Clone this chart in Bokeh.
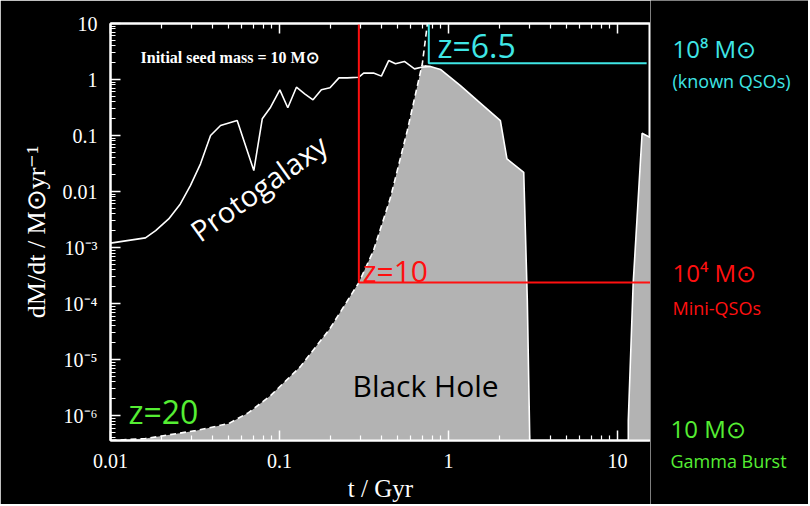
from bokeh.plotting import figure
from bokeh.models import Label, FixedTicker, CustomJSTickFormatter, LogAxis, Range1d
from bokeh.layouts import row, column
from bokeh.embed import file_html
from bokeh.resources import INLINE
import math

# ---------------- data ----------------
# Protogalaxy star-formation rate  (t in Gyr, rate in Msun/yr)
proto_t = [0.0100, 0.0161, 0.0185, 0.0221, 0.0259, 0.0297, 0.0341, 0.0391, 0.0448,
           0.0562, 0.0705, 0.0791, 0.0886, 0.1005, 0.112, 0.126, 0.141, 0.158,
           0.177, 0.199, 0.225, 0.252, 0.295, 0.315, 0.360, 0.401, 0.443, 0.486,
           0.549, 0.630, 0.692, 0.782]
proto_rate = [1.2e-3, 1.49e-3, 2.01e-3, 3.25e-3, 6.0e-3, 0.0128, 0.0313, 0.100, 0.151,
              0.185, 0.0237, 0.199, 0.320, 0.655, 0.313, 0.729, 0.556, 0.434,
              0.655, 0.711, 1.07, 1.07, 1.10, 1.30, 1.31, 1.15, 2.18, 1.91,
              2.10, 1.55, 1.66, 1.71]

# Black hole accretion: Eddington-limited rise (dashed)
bh_rise_t = [0.0100, 0.0161, 0.0319, 0.0499, 0.0656, 0.0886, 0.133, 0.199, 0.295,
             0.360, 0.454, 0.571, 0.701, 0.751]
bh_rise_rate = [3.6e-7, 3.9e-7, 5.4e-7, 7.2e-7, 1.13e-6, 2.28e-6, 7.5e-6, 3.58e-5, 2.37e-4,
                8.8e-4, 7.8e-3, 0.123, 1.93, 10.0]

# Black hole accretion: decline after the peak (solid)
bh_fall_t = [0.720, 0.782, 0.897, 1.178, 1.486, 2.03, 2.22, 2.79, 2.93, 3.03]
bh_fall_rate = [1.75, 1.71, 1.51, 0.78, 0.42, 0.185, 0.0384, 0.0221, 1.13e-4, 3.6e-7]

# Late-time black hole accretion spike
late_t = [11.6, 11.6, 12.4, 14.0, 15.7]
late_rate = [3.6e-7, 8.1e-7, 2.3e-4, 0.11, 0.092]

t_range = (0.01, 15.7)
rate_range = (3.6e-7, 10.0)

x_tick_vals = [0.01, 0.1, 1, 10]
x_tick_labels = ["0.01", "0.1", "1", "10"]
y_tick_vals = [1e-6, 1e-5, 1e-4, 1e-3, 0.01, 0.1, 1, 10]
y_tick_labels = ["10\u207b\u2076", "10\u207b\u2075", "10\u207b\u2074", "10\u207b\u00b3",
                 "0.01", "0.1", "1", "10"]

# redshift markers
z10_t, z10_rate = 0.295, 2.37e-4
z65_t, z65_rate, z65_end_t = 0.765, 1.95, 14.9

# ---------------- styling ----------------
WHITE = "white"
GRAY = "#b3b3b3"
RED = "#ff1010"
CYAN = "#3fe6e6"
GREEN = "#55ee33"
SERIF = "Liberation Serif"
SANS = "Open Sans"
FIG_H = 504


def minor_list(vals):
    out = []
    for v in vals:
        for k in range(2, 10):
            out.append(v * k)
    return out


p = figure(x_axis_type="log", y_axis_type="log",
           x_range=Range1d(*t_range), y_range=Range1d(*rate_range),
           frame_width=540, frame_height=417,
           min_border_left=110, min_border_top=23, min_border_right=0, min_border_bottom=64,
           output_backend="svg", toolbar_location=None)

p.background_fill_color = "black"
p.border_fill_color = "black"
p.outline_line_color = WHITE
p.outline_line_width = 2
p.grid.visible = False

x_ticker = FixedTicker(ticks=x_tick_vals, minor_ticks=minor_list([0.01, 0.1, 1, 10]))
y_ticker = FixedTicker(ticks=y_tick_vals, minor_ticks=minor_list([1e-7, 1e-6, 1e-5, 1e-4, 1e-3, 0.01, 0.1, 1]))

fmt_code = """
const e = Math.round(Math.log10(tick));
const i = exps.indexOf(e);
return i >= 0 ? labels[i] : "";
"""
x_fmt = CustomJSTickFormatter(args=dict(exps=[round(math.log10(v)) for v in x_tick_vals],
                                        labels=x_tick_labels), code=fmt_code)
y_fmt = CustomJSTickFormatter(args=dict(exps=[round(math.log10(v)) for v in y_tick_vals],
                                        labels=y_tick_labels), code=fmt_code)
blank_fmt = CustomJSTickFormatter(code='return "";')


def style_axis(ax):
    ax.axis_line_color = WHITE
    ax.axis_line_width = 2
    ax.major_tick_line_color = WHITE
    ax.minor_tick_line_color = WHITE
    ax.major_tick_line_width = 1.5
    ax.minor_tick_line_width = 1.2
    ax.major_tick_in = 10
    ax.major_tick_out = 0
    ax.minor_tick_in = 5
    ax.minor_tick_out = 0
    ax.major_label_text_color = WHITE
    ax.major_label_text_font = SERIF
    ax.major_label_text_font_size = "20px"
    ax.axis_label_text_color = WHITE
    ax.axis_label_text_font = SERIF
    ax.axis_label_text_font_size = "25px"
    ax.axis_label_text_font_style = "normal"


xa = p.xaxis[0]
xa.ticker = x_ticker
xa.formatter = x_fmt
style_axis(xa)
xa.axis_label = "t / Gyr"
xa.major_label_standoff = 13
xa.axis_label_standoff = 4

ya = p.yaxis[0]
ya.ticker = y_ticker
ya.formatter = y_fmt
style_axis(ya)
ya.axis_label = "dM/dt / M\u2299yr\u207b\u00b9"
ya.axis_label_text_font_size = "26px"
ya.major_label_standoff = 13
ya.axis_label_standoff = 9

top = LogAxis(ticker=x_ticker, formatter=blank_fmt)
style_axis(top)
top.major_label_standoff = 0
p.add_layout(top, "above")

# ---------------- marks ----------------
floor = rate_range[0]
poly_t = [t for t in bh_rise_t if t < bh_fall_t[0]] + bh_fall_t
poly_r = [r for t, r in zip(bh_rise_t, bh_rise_rate) if t < bh_fall_t[0]] + bh_fall_rate
p.patch(poly_t, poly_r, fill_color=GRAY, line_color=None)
p.patch(late_t + [late_t[-1]], late_rate + [floor * 0.5], fill_color=GRAY, line_color=None)

p.line(bh_rise_t, bh_rise_rate, line_color=WHITE, line_width=1.6, line_dash="6 4")
p.line(bh_fall_t, bh_fall_rate, line_color=WHITE, line_width=1.6)
p.line(late_t, late_rate, line_color=WHITE, line_width=1.6)
p.line(proto_t, proto_rate, line_color=WHITE, line_width=1.6)

# redshift markers
p.line([z10_t, z10_t, t_range[1] * 1.05], [rate_range[1] * 2, z10_rate, z10_rate],
       line_color=RED, line_width=2)
p.line([z65_t, z65_t, z65_end_t], [rate_range[1] * 2, z65_rate, z65_rate],
       line_color=CYAN, line_width=2)


def lab(fig, text, x, y, color, size, font=SANS, align="left", angle=0, style="normal"):
    fig.add_layout(Label(x=x, y=y, x_units="screen", y_units="screen", text=text,
                         text_color=color, text_font=font, text_font_size=size,
                         text_align=align, text_baseline="middle", angle=angle,
                         angle_units="deg", text_font_style=style))


lab(p, "Initial seed mass = 10 M\u2299", 30, 383, WHITE, "16px", font=SERIF, style="bold")
lab(p, "Protogalaxy", 148, 253, WHITE, "29px", align="center", angle=35.5)
lab(p, "Black Hole", 242, 55, "black", "30px")
lab(p, "z=20", 18, 29, GREEN, "32px")
lab(p, "z=10", 252, 170, RED, "30px")
lab(p, "z=6.5", 327, 395, CYAN, "32px")

# ---------------- right-hand legend panel ----------------
side = figure(width=158, height=FIG_H, x_range=Range1d(0, 158), y_range=Range1d(0, FIG_H),
              min_border=0, x_axis_location=None, y_axis_location=None,
              output_backend="svg", toolbar_location=None)
side.background_fill_color = "black"
side.border_fill_color = "black"
side.outline_line_color = None
side.grid.visible = False

# positions measured from the top-left of the side panel (pixels)
side_texts = [("10\u2078 M\u2299", 22, 48, CYAN, "24px"),
              ("(known QSOs)", 22, 80, CYAN, "18px"),
              ("10\u2074 M\u2299", 22, 272, RED, "24px"),
              ("Mini-QSOs", 22, 307, RED, "18px"),
              ("10 M\u2299", 20, 428, GREEN, "24px"),
              ("Gamma Burst", 20, 460, GREEN, "18px")]
for txt, sx, sy, col, size in side_texts:
    lab(side, txt, sx, FIG_H - sy, col, size)

layout = row(p, column(side, spacing=0), spacing=0)
html = file_html(layout, INLINE)
html = html.replace("<body>", '<body style="background-color:black;">', 1)
open("out.html", "w").write(html)
